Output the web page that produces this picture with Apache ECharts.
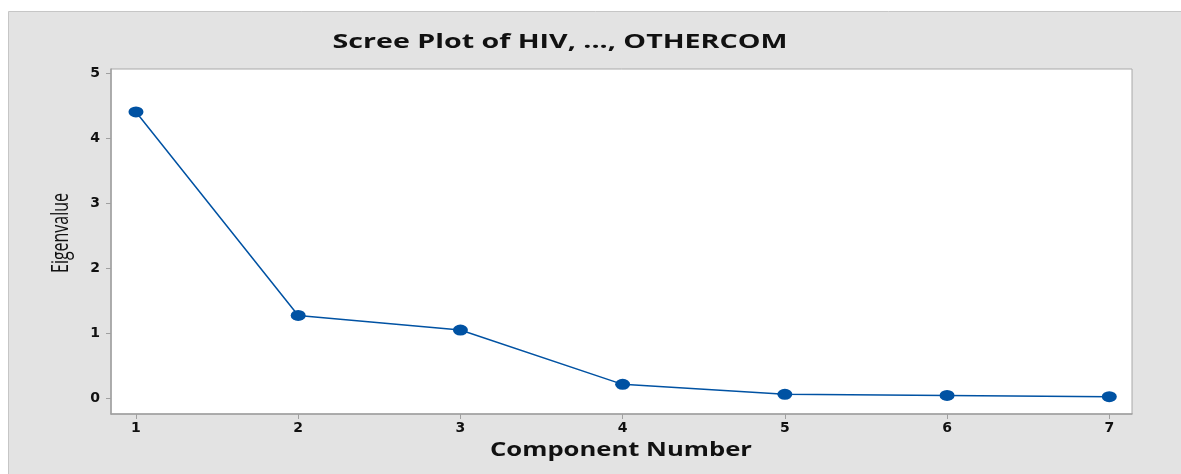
<!DOCTYPE html>
<html>
<head>
<meta charset="utf-8">
<script src="https://cdn.jsdelivr.net/npm/echarts@6/dist/echarts.min.js"></script>
<style>html,body{margin:0;padding:0;background:#fff}#c{width:1181px;height:474px}</style>
</head>
<body>
<div id="c"></div>
<script>
const components = [1, 2, 3, 4, 5, 6, 7];
const eigenvalues = [4.40, 1.27, 1.045, 0.21, 0.057, 0.04, 0.02];
const xTicks = [1, 2, 3, 4, 5, 6, 7];
const yTicks = [0, 1, 2, 3, 4, 5];
const titleText = 'Scree Plot of HIV, ..., OTHERCOM';
const xName = 'Component Number';
const yName = 'Eigenvalue';

const ctx = document.createElement('canvas').getContext('2d');
function fitScale(text, font, target) {
  ctx.font = font;
  return target / ctx.measureText(text).width;
}
const sans = '"Open Sans", "Noto Sans", sans-serif';
const titleFont = 'bold 19px ' + sans;
const xNameFont = 'bold 19px ' + sans;
const yNameFont = '500 23px ' + sans;
const tickFont = {fontFamily: '"DejaVu Sans", sans-serif', fontWeight: 'bold', fontSize: 14, color: '#111'};

const chart = echarts.init(document.getElementById('c'), null, {renderer: 'canvas'});
chart.setOption({
  animation: false,
  backgroundColor: '#ffffff',
  graphic: [
    {type: 'rect', z: -10, shape: {x: 8.5, y: 11.5, width: 1180, height: 470},
     style: {fill: '#e3e3e3', stroke: '#c6c6c6', lineWidth: 1}},
    {type: 'text', z: 10, x: 560, y: 43, scaleX: fitScale(titleText, titleFont, 455),
     style: {text: titleText, font: titleFont, fill: '#111', align: 'center', verticalAlign: 'middle'}},
    {type: 'text', z: 10, x: 621, y: 451, scaleX: fitScale(xName, xNameFont, 262),
     style: {text: xName, font: xNameFont, fill: '#111', align: 'center', verticalAlign: 'middle'}},
    {type: 'text', z: 10, x: 61, y: 233, rotation: Math.PI / 2, scaleX: fitScale(yName, yNameFont, 80),
     style: {text: yName, font: yNameFont, fill: '#111', align: 'center', verticalAlign: 'middle'}}
  ],
  grid: {left: 111, top: 69, right: 49, bottom: 60, show: true, backgroundColor: '#fff',
    borderColor: '#a8a8a8', borderWidth: 1},
  xAxis: {
    type: 'value', min: 0.846, max: 7.14,
    axisLine: {show: true, onZero: false, lineStyle: {color: '#a0a0a0', width: 1.5}},
    axisTick: {show: true, length: 5, lineStyle: {color: '#a0a0a0'}, customValues: xTicks},
    axisLabel: Object.assign({customValues: xTicks, margin: 7}, tickFont),
    splitLine: {show: false}
  },
  yAxis: {
    type: 'value', min: -0.246, max: 5.06,
    axisLine: {show: true, onZero: false, lineStyle: {color: '#a0a0a0', width: 1.5}},
    axisTick: {show: true, length: 5, lineStyle: {color: '#a0a0a0'}, customValues: yTicks},
    axisLabel: Object.assign({customValues: yTicks, margin: 11}, tickFont),
    splitLine: {show: false}
  },
  series: [{
    type: 'line',
    data: components.map((c, i) => [c, eigenvalues[i]]),
    symbol: 'circle', symbolSize: [15, 11],
    itemStyle: {color: '#0052a3'},
    lineStyle: {color: '#0052a3', width: 1.5}
  }]
});
</script>
</body>
</html>
